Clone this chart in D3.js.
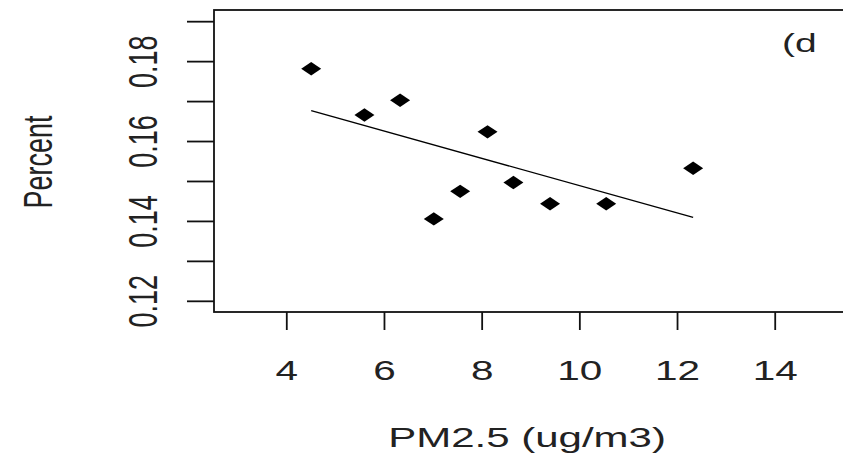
<!DOCTYPE html>
<html>
<head>
<meta charset="utf-8">
<script src="https://cdn.jsdelivr.net/npm/d3@7"></script>
<style>
  body { margin: 0; background: #fff; }
  text { font-family: "Liberation Sans", Arial, sans-serif; fill: #222; }
</style>
</head>
<body>
<script>
// data
const pm25 = [4.51, 5.60, 6.33, 7.02, 7.56, 8.12, 8.65, 9.40, 10.55, 12.33];
const percent = [0.1781, 0.1665, 0.1702, 0.1405, 0.1474, 0.1623, 0.1496, 0.1443, 0.1443, 0.1532];
const fitX = [4.51, 12.33];
const fitY = [0.1676, 0.1409];
const xTicks = [4, 6, 8, 10, 12, 14];
const yTicks = [0.12, 0.13, 0.14, 0.15, 0.16, 0.17, 0.18, 0.19];
const yLabels = ['0.12', '', '0.14', '', '0.16', '', '0.18', ''];

const width = 843, height = 453;
const mLeft = 214, mRight = 847, mTop = 10, mBottom = 312;
const sx = 1.5; // the picture is stretched sideways

const svg = d3.select('body').append('svg')
    .attr('width', width)
    .attr('height', height);

const x = d3.scaleLinear().domain([2.52, 15.48]).range([mLeft, mRight]);
const y = d3.scaleLinear().domain([0.1172, 0.1928]).range([mBottom, mTop]);

// y axis
const yAxis = svg.append('g')
    .attr('transform', `translate(${mLeft},0)`)
    .call(d3.axisLeft(y).tickValues(yTicks).tickSize(27).tickFormat((d, i) => yLabels[i]));
yAxis.select('.domain').remove();
yAxis.selectAll('line').attr('stroke', '#111').attr('stroke-width', 1.8);
yAxis.selectAll('text')
    .attr('x', null).attr('dy', null)
    .attr('text-anchor', 'middle')
    .attr('font-size', 27)
    .attr('fill', '#222')
    .attr('transform', `translate(${157 - mLeft},0) scale(${sx},1) rotate(-90)`);

// x axis
const xAxis = svg.append('g')
    .attr('transform', `translate(0,${mBottom})`)
    .call(d3.axisBottom(x).tickValues(xTicks).tickSize(18).tickFormat(d3.format('d')));
xAxis.select('.domain').remove();
xAxis.selectAll('line').attr('stroke', '#111').attr('stroke-width', 1.8);
xAxis.selectAll('text')
    .attr('y', null).attr('dy', null)
    .attr('text-anchor', 'middle')
    .attr('font-size', 27)
    .attr('fill', '#222')
    .attr('transform', `translate(0,68) scale(${sx},1)`);

// box
svg.append('rect')
    .attr('x', mLeft).attr('y', mTop)
    .attr('width', mRight - mLeft).attr('height', mBottom - mTop)
    .attr('fill', 'none')
    .attr('stroke', '#111')
    .attr('stroke-width', 1.8);

// fitted line
svg.append('line')
    .attr('x1', x(fitX[0])).attr('y1', y(fitY[0]))
    .attr('x2', x(fitX[1])).attr('y2', y(fitY[1]))
    .attr('stroke', '#000')
    .attr('stroke-width', 1.4);

// diamonds
const hw = 10, hh = 6.7;
svg.selectAll('.pt')
    .data(pm25)
    .enter()
    .append('path')
    .attr('class', 'pt')
    .attr('d', (d, i) => {
        const cx = x(d), cy = y(percent[i]);
        return `M${cx - hw},${cy}L${cx},${cy - hh}L${cx + hw},${cy}L${cx},${cy + hh}Z`;
    })
    .attr('fill', '#000');

// axis titles
svg.append('text')
    .attr('text-anchor', 'middle')
    .attr('font-size', 27)
    .attr('transform', `translate(52,162) scale(${sx},1) rotate(-90)`)
    .text('Percent');

svg.append('text')
    .attr('text-anchor', 'middle')
    .attr('font-size', 28)
    .attr('transform', `translate(527,447) scale(${sx},1)`)
    .text('PM2.5 (ug/m3)');

// panel tag
svg.append('text')
    .attr('font-size', 26)
    .attr('transform', `translate(782,52) scale(${sx},1)`)
    .text('(d');
</script>
</body>
</html>
